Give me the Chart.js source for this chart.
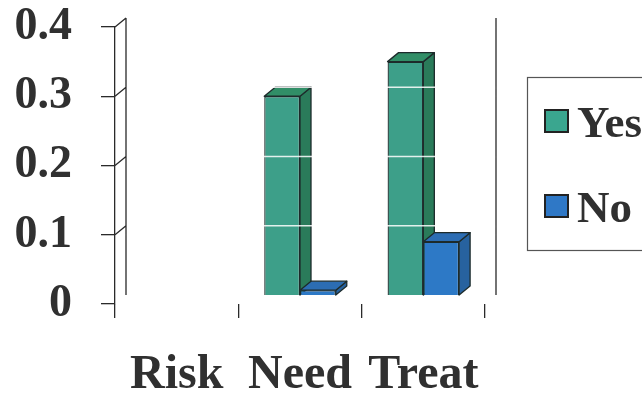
<!DOCTYPE html>
<html>
<head>
<meta charset="utf-8">
<script src="https://cdn.jsdelivr.net/npm/chart.js@4/dist/chart.umd.min.js"></script>
<style>
  html, body { margin: 0; padding: 0; background: #ffffff; overflow: hidden; }
  #wrap { width: 642px; height: 394px; }
</style>
</head>
<body>
<div id="wrap"><canvas id="c" width="642" height="394"></canvas></div>
<script>
// Chart data
const categories = ['Risk', 'Need', 'Treat'];
const seriesNames = ['Yes', 'No'];
const yesValues = [0, 0.3, 0.35];
const noValues = [0, 0.02, 0.09];
const yTickValues = [0, 0.1, 0.2, 0.3, 0.4];

// Styling
const SERIF = '"Liberation Serif", "Times New Roman", serif';
const TEXT = '#303030';
const LINE = '#2a2a2a';
const DEPTH_X = 11;   // depth offset of the back wall
const DEPTH_Y = -9;
const faces = [
  { front: '#3d9f89', side: '#2a7b5a', top: '#318e67', legend: '#3aa68f' },
  { front: '#2d79c6', side: '#27629f', top: '#2c6db3', legend: '#2f78c6' }
];

// Draws the 3D walls, extruded columns and the legend box
const columns3d = {
  id: 'columns3d',
  beforeDatasetsDraw(chart) {
    const ctx = chart.ctx;
    const area = chart.chartArea;
    const y = chart.scales.y;
    const floorY = y.getPixelForValue(0) + DEPTH_Y;
    const topY = y.getPixelForValue(0.4) + DEPTH_Y;

    ctx.save();
    ctx.strokeStyle = LINE;
    ctx.lineWidth = 1.3;
    // back wall edges
    ctx.beginPath();
    ctx.moveTo(area.left + DEPTH_X, topY);
    ctx.lineTo(area.left + DEPTH_X, floorY);
    ctx.moveTo(area.right + DEPTH_X, topY);
    ctx.lineTo(area.right + DEPTH_X, floorY);
    // side wall depth lines at each tick
    yTickValues.forEach(v => {
      if (v === 0) return;
      const py = y.getPixelForValue(v);
      ctx.moveTo(area.left, py);
      ctx.lineTo(area.left + DEPTH_X, py + DEPTH_Y);
    });
    ctx.stroke();
    ctx.restore();

    // columns, category by category so nearer faces cover the sides
    const metas = chart.getSortedVisibleDatasetMetas().slice().sort((a, b) => a.index - b.index);
    categories.forEach((c, i) => {
      metas.forEach(meta => {
        const el = meta.data[i];
        const value = chart.data.datasets[meta.index].data[i];
        if (!el || !value) return;
        const p = el.getProps(['x', 'y', 'base', 'width'], true);
        const left = p.x - p.width / 2;
        const right = p.x + p.width / 2;
        const top = p.y;
        const bottom = floorY;
        const f = faces[meta.index];

        // front face, drawn by the bar element, cut at the floor
        ctx.save();
        ctx.beginPath();
        ctx.rect(0, 0, chart.width, bottom);
        ctx.clip();
        el.draw(ctx);
        ctx.restore();

        ctx.save();
        ctx.lineJoin = 'round';
        ctx.strokeStyle = '#1d2b2b';
        ctx.lineWidth = 1.3;
        // side face
        ctx.beginPath();
        ctx.moveTo(right, top);
        ctx.lineTo(right + DEPTH_X, top + DEPTH_Y);
        ctx.lineTo(right + DEPTH_X, bottom + DEPTH_Y);
        ctx.lineTo(right, bottom);
        ctx.closePath();
        ctx.fillStyle = f.side;
        ctx.fill();
        ctx.stroke();
        // top face
        ctx.beginPath();
        ctx.moveTo(left, top);
        ctx.lineTo(left + DEPTH_X, top + DEPTH_Y);
        ctx.lineTo(right + DEPTH_X, top + DEPTH_Y);
        ctx.lineTo(right, top);
        ctx.closePath();
        ctx.fillStyle = f.top;
        ctx.fill();
        ctx.stroke();
        ctx.restore();
      });
    });

    // back-wall gridlines (white)
    ctx.save();
    ctx.strokeStyle = 'rgba(255,255,255,0.85)';
    ctx.lineWidth = 1.4;
    ctx.beginPath();
    yTickValues.forEach(v => {
      if (v === 0 || v === 0.4) return;
      const py = y.getPixelForValue(v) + DEPTH_Y;
      ctx.moveTo(area.left + DEPTH_X + 1, py);
      ctx.lineTo(area.right + DEPTH_X - 1, py);
    });
    ctx.stroke();
    ctx.restore();

    // legend
    ctx.save();
    ctx.strokeStyle = '#555555';
    ctx.lineWidth = 1.2;
    ctx.strokeRect(527.5, 77.5, 140, 173);
    ctx.font = 'bold 45px ' + SERIF;
    ctx.fillStyle = TEXT;
    ctx.textBaseline = 'alphabetic';
    const rows = [137, 222];
    chart.data.datasets.forEach((ds, k) => {
      const base = rows[k];
      ctx.fillStyle = faces[k].legend;
      ctx.fillRect(545, base - 27, 23, 22);
      ctx.strokeStyle = '#222222';
      ctx.lineWidth = 2;
      ctx.strokeRect(545, base - 27, 23, 22);
      ctx.fillStyle = TEXT;
      ctx.fillText(ds.label, 577, base);
    });
    ctx.restore();
    return false;
  }
};

new Chart(document.getElementById('c'), {
  type: 'bar',
  data: {
    labels: categories,
    datasets: [
      { label: seriesNames[0], data: yesValues, backgroundColor: faces[0].front,
        borderColor: '#1d2b2b', borderWidth: 1.3 },
      { label: seriesNames[1], data: noValues, backgroundColor: faces[1].front,
        borderColor: '#1d2b2b', borderWidth: 1.3 }
    ]
  },
  options: {
    responsive: false,
    animation: false,
    devicePixelRatio: 1,
    categoryPercentage: 0.58,
    barPercentage: 1,
    layout: { padding: { top: 27, right: 157, left: 0, bottom: 0 } },
    plugins: { legend: { display: false }, tooltip: { enabled: false } },
    scales: {
      x: {
        offset: true,
        grid: { display: true, drawOnChartArea: false, drawTicks: true, tickLength: 14,
                color: LINE, lineWidth: 1.3, offset: true },
        border: { display: false },
        ticks: { font: { family: SERIF, size: 48, weight: 'bold' }, color: TEXT,
                 padding: 29, maxRotation: 0, autoSkip: false },
        afterFit(scale) {
          scale.height = 90;
          scale.paddingLeft = 0;
          scale.paddingRight = 0;
        }
      },
      y: {
        min: 0,
        max: 0.4,
        afterBuildTicks(scale) { scale.ticks = yTickValues.map(v => ({ value: v })); },
        grid: { drawOnChartArea: false, drawTicks: true, tickLength: 14, color: LINE, lineWidth: 1.3 },
        border: { display: true, color: LINE, width: 1.3 },
        ticks: { font: { family: SERIF, size: 46, weight: 'bold' }, color: TEXT, padding: 29,
                 callback: v => (v === 0 ? '0' : Number(v).toFixed(1)) },
        afterFit(scale) {
          scale.width = 115;
          scale.paddingTop = 0;
          scale.paddingBottom = 0;
        }
      }
    }
  },
  plugins: [columns3d]
});
</script>
</body>
</html>
